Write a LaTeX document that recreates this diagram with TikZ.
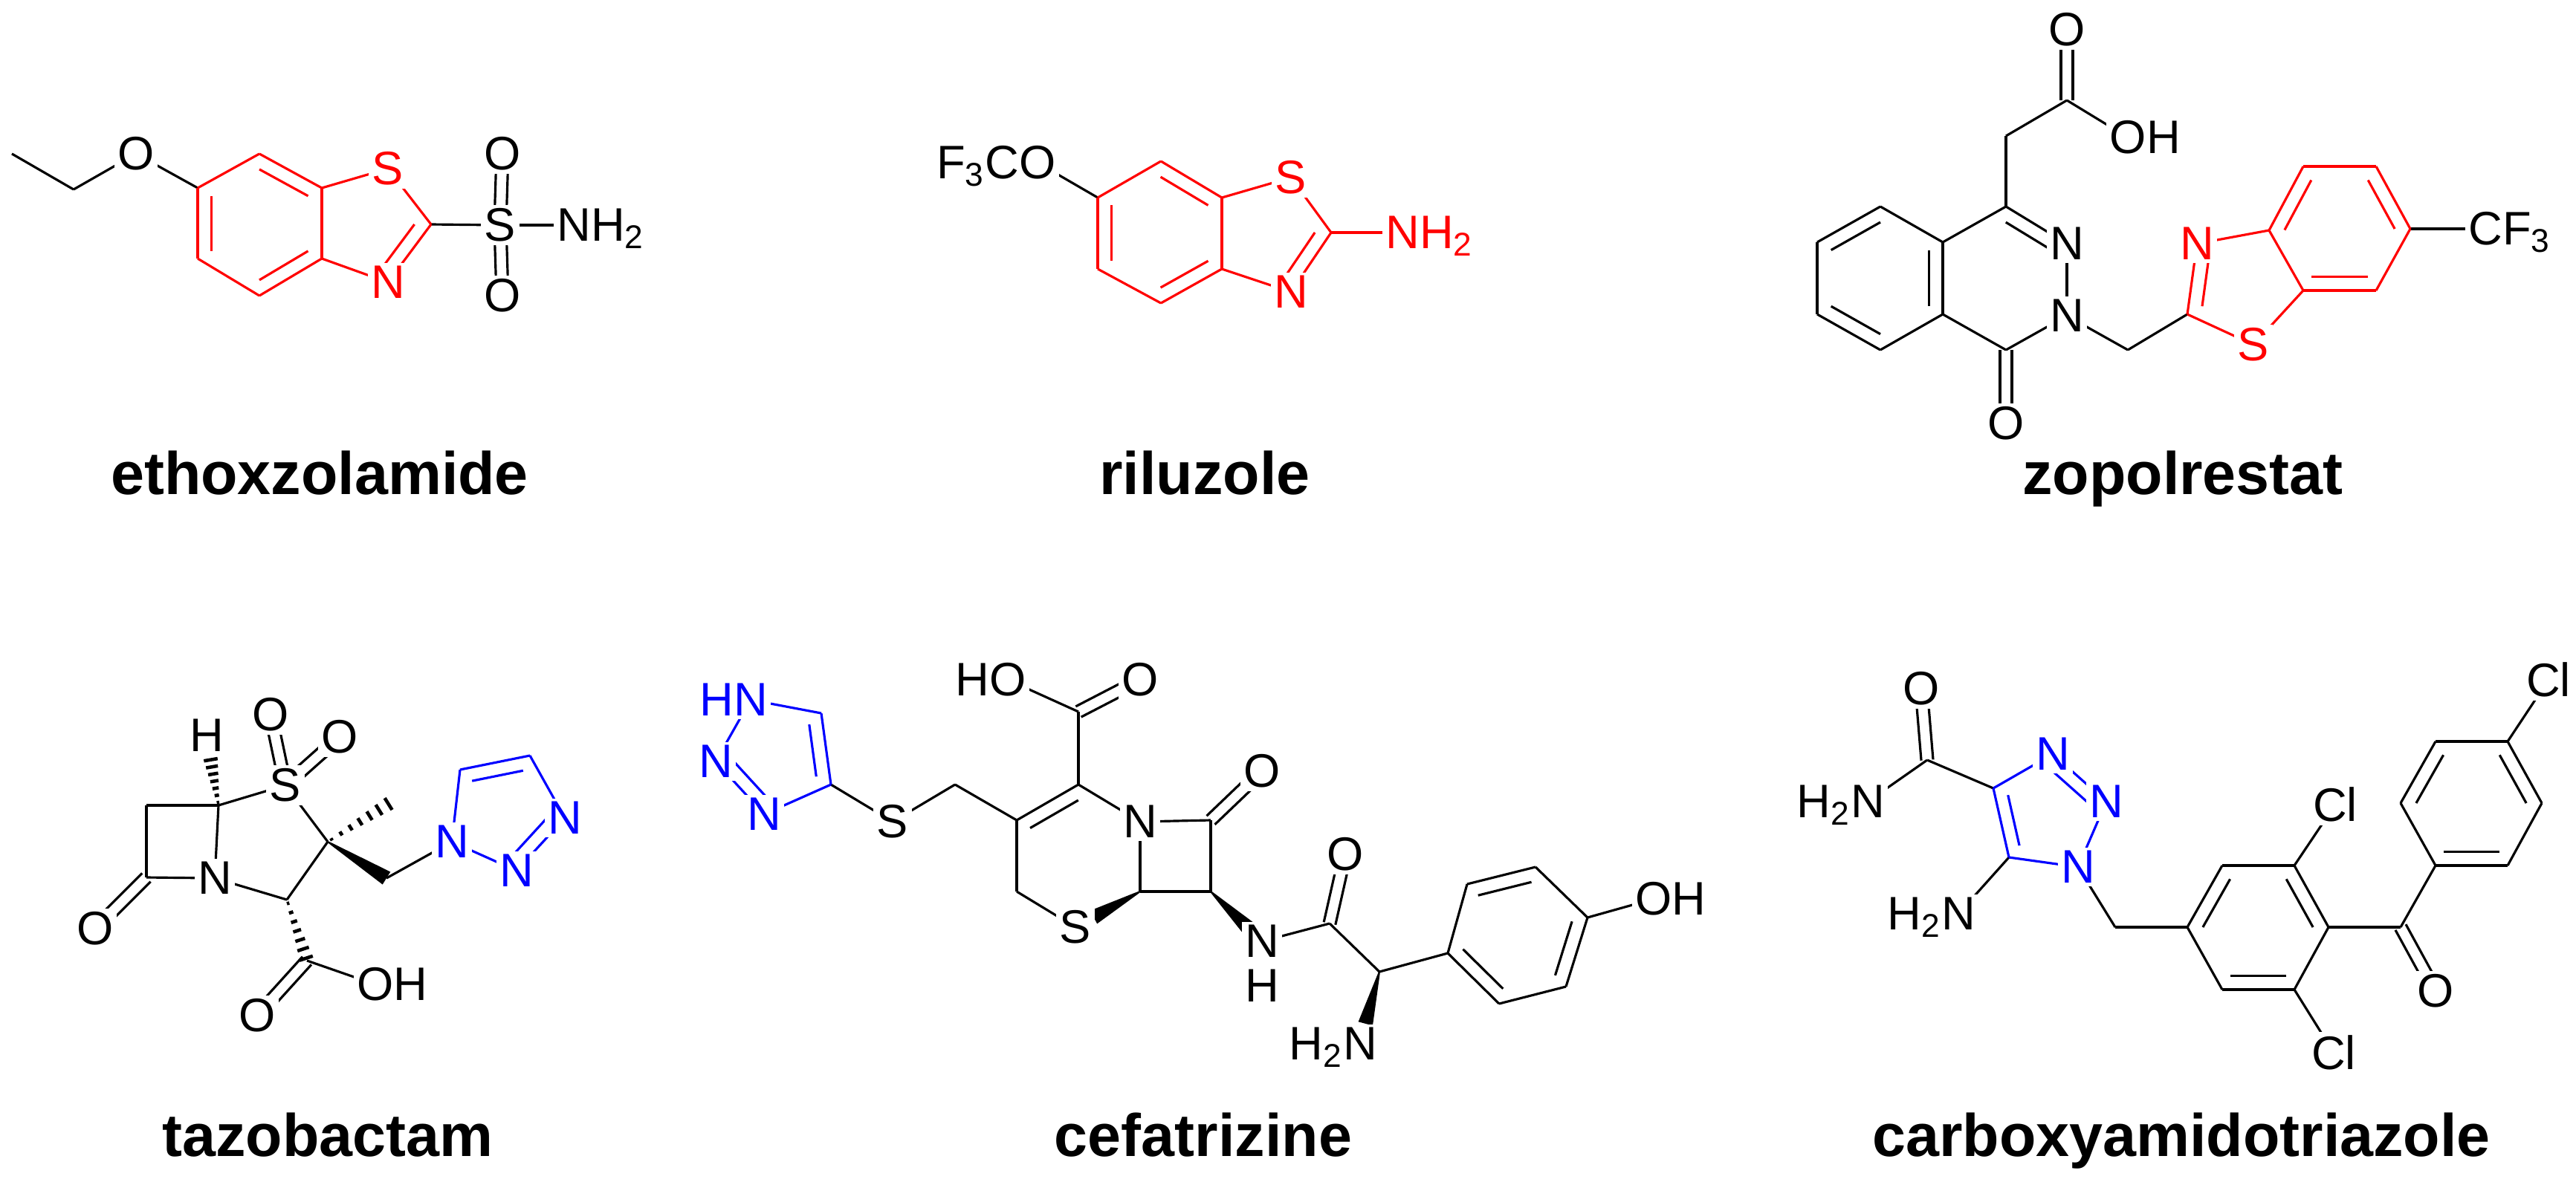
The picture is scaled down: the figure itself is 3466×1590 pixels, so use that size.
\documentclass[tikz,border=0pt]{standalone}
\usepackage{fontspec}
\setmainfont{Liberation Sans}
\usetikzlibrary{calc}
\tikzset{
  bond/.style={line width=0.9pt},
  atom/.style={font=\fontsize{18}{18}\selectfont, inner sep=1.3pt, fill=white},
  sub/.style={font=\fontsize{18}{18}\selectfont, inner sep=0pt, fill=white},
  subr/.style={sub, anchor=base west, xshift=-1.6pt},
  subl/.style={sub, anchor=base east, xshift=1.6pt},
  molname/.style={font=\bfseries\fontsize{23}{23}\selectfont, anchor=base}
}
\newcommand\bd[2]{\draw[bond] (#1) -- (#2);}
\newcommand\ib[4][0.22]{\draw[bond] ($(#2)!#1!(#4)$) -- ($(#3)!#1!(#4)$);}
\newcommand\db[2]{\draw[bond] ($(#1)!0.08cm!90:(#2)$) -- ($(#2)!0.08cm!-90:(#1)$);
  \draw[bond] ($(#1)!0.08cm!-90:(#2)$) -- ($(#2)!0.08cm!90:(#1)$);}
\newcommand\hw[2]{\foreach \t in {0.06,0.21,0.36,0.51,0.66,0.81,0.96}{%
  \pgfmathsetmacro\ww{0.012+0.085*\t}%
  \coordinate (hp) at ($(#1)!\t!(#2)$);
  \draw[line width=1.3pt] ($(hp)!\ww cm!90:(#2)$) -- ($(hp)!\ww cm!-90:(#2)$);}}
\newcommand\sw[2]{\fill ($(#1)!0.01cm!90:(#2)$) -- ($(#2)!0.1cm!-90:(#1)$) -- ($(#2)!0.1cm!90:(#1)$) -- ($(#1)!0.01cm!-90:(#2)$) -- cycle;}
\begin{document}
\begin{tikzpicture}[x=0.01cm,y=-0.01cm]
\path[use as bounding box, fill=white] (0,0) rectangle (3466,1590);

% ===== ethoxzolamide =====
\coordinate (e1) at (16,207); \coordinate (e2) at (99,255); \coordinate (eO) at (183,207);
\coordinate (e6) at (266,253); \coordinate (e7) at (349,207); \coordinate (e7a) at (433,253);
\coordinate (e3a) at (433,348); \coordinate (e4) at (349,398); \coordinate (e5) at (266,348);
\coordinate (eS) at (522,227); \coordinate (e2c) at (580,302); \coordinate (eN) at (522,380);
\coordinate (eSS) at (673,303); \coordinate (eO1) at (676,207); \coordinate (eO2) at (676,398);
\coordinate (eNH) at (772,303); \coordinate (ebc) at (349,302); \coordinate (etc) at (497,302);
\bd{e1}{e2}\bd{e2}{eO}\bd{eO}{e6}\bd{e2c}{eSS}\bd{eSS}{eNH}\db{eSS}{eO1}\db{eSS}{eO2}
\begin{scope}[red]
\bd{e6}{e7}\bd{e7}{e7a}\bd{e7a}{e3a}\bd{e3a}{e4}\bd{e4}{e5}\bd{e5}{e6}
\ib{e7}{e7a}{ebc}\ib{e5}{e6}{ebc}\ib{e3a}{e4}{ebc}
\bd{e7a}{eS}\bd{eS}{e2c}\bd{e2c}{eN}\bd{eN}{e3a}\ib[0.27]{e2c}{eN}{etc}
\node[atom] (eSl) at (eS) {S}; \node[atom] (eNl) at (eN) {N};
\end{scope}
\node[atom] (eOl) at (eO) {O}; \node[atom] (eSSl) at (eSS) {S};
\node[atom] (eO1l) at (eO1) {O}; \node[atom] (eO2l) at (eO2) {O};
\node[atom] (eNHl) at (eNH) {N}; \node[subr] (eH2) at (eNHl.base east) {H\textsubscript{2}};
\node[molname] (lab1) at (430,665) {ethoxzolamide};

% ===== riluzole =====
\coordinate (r6) at (1477,266); \coordinate (r7) at (1562,217); \coordinate (r7a) at (1644,266);
\coordinate (r3a) at (1644,362); \coordinate (r4) at (1562,408); \coordinate (r5) at (1477,362);
\coordinate (rS) at (1737,239); \coordinate (r2) at (1791,313); \coordinate (rN) at (1737,393);
\coordinate (rNH) at (1887,313); \coordinate (rO) at (1396,219);
\coordinate (rbc) at (1560,313); \coordinate (rtc) at (1710,313);
\bd{rO}{r6}
\begin{scope}[red]
\bd{r6}{r7}\bd{r7}{r7a}\bd{r7a}{r3a}\bd{r3a}{r4}\bd{r4}{r5}\bd{r5}{r6}
\ib{r7}{r7a}{rbc}\ib{r5}{r6}{rbc}\ib{r3a}{r4}{rbc}
\bd{r7a}{rS}\bd{rS}{r2}\bd{r2}{rN}\bd{rN}{r3a}\ib[0.27]{r2}{rN}{rtc}\bd{r2}{rNH}
\node[atom] (rSl) at (rS) {S}; \node[atom] (rNl) at (rN) {N};
\node[atom] (rNHl) at (rNH) {N}; \node[subr] (rH2) at (rNHl.base east) {H\textsubscript{2}};
\end{scope}
\node[atom] (rOl) at (rO) {O}; \node[subl] (rF3C) at (rOl.base west) {F\textsubscript{3}C};
\node[molname] (lab2) at (1621,665) {riluzole};

% ===== zopolrestat =====
\coordinate (zb1) at (2530,278); \coordinate (zb2) at (2614,326); \coordinate (zb3) at (2614,423);
\coordinate (zb4) at (2530,471); \coordinate (zb5) at (2445,423); \coordinate (zb6) at (2445,326);
\coordinate (zbc) at (2530,374);
\coordinate (zc1) at (2699,278); \coordinate (zn2) at (2781,328); \coordinate (zn3) at (2781,425);
\coordinate (zc4) at (2699,471); \coordinate (zpc) at (2698,374); \coordinate (zO4) at (2699,570);
\coordinate (zch) at (2699,183); \coordinate (zcc) at (2781,135); \coordinate (zOa) at (2781,40);
\coordinate (zOH) at (2863,185); \coordinate (zm) at (2863,471);
\coordinate (zt2) at (2943,423); \coordinate (ztN) at (2956,328); \coordinate (zt3a) at (3053,310);
\coordinate (zt7a) at (3099,391); \coordinate (ztS) at (3032,464); \coordinate (ztc) at (3017,383);
\coordinate (zp4) at (3099,224); \coordinate (zp5) at (3197,224); \coordinate (zp6) at (3243,308);
\coordinate (zp7) at (3197,391); \coordinate (zpc2) at (3148,308); \coordinate (zCF) at (3344,308);
\bd{zb1}{zb2}\bd{zb2}{zb3}\bd{zb3}{zb4}\bd{zb4}{zb5}\bd{zb5}{zb6}\bd{zb6}{zb1}
\ib{zb6}{zb1}{zbc}\ib{zb4}{zb5}{zbc}\ib{zb2}{zb3}{zbc}
\bd{zb2}{zc1}\bd{zc1}{zn2}\ib{zc1}{zn2}{zpc}\bd{zn2}{zn3}\bd{zn3}{zc4}\bd{zc4}{zb3}\db{zc4}{zO4}
\bd{zc1}{zch}\bd{zch}{zcc}\db{zcc}{zOa}\bd{zcc}{zOH}
\bd{zn3}{zm}\bd{zm}{zt2}\bd{zp6}{zCF}
\begin{scope}[red]
\bd{zt2}{ztN}\ib[0.27]{zt2}{ztN}{ztc}\bd{ztN}{zt3a}\bd{zt3a}{zt7a}\bd{zt7a}{ztS}\bd{ztS}{zt2}
\bd{zt3a}{zp4}\bd{zp4}{zp5}\bd{zp5}{zp6}\bd{zp6}{zp7}\bd{zp7}{zt7a}
\ib{zt3a}{zp4}{zpc2}\ib{zp5}{zp6}{zpc2}\ib{zp7}{zt7a}{zpc2}
\node[atom] (ztNl) at (ztN) {N}; \node[atom] (ztSl) at (ztS) {S};
\end{scope}
\node[atom] (zn2l) at (zn2) {N}; \node[atom] (zn3l) at (zn3) {N};
\node[atom] (zO4l) at (zO4) {O}; \node[atom] (zOal) at (zOa) {O};
\node[atom] (zOHl) at (zOH) {O}; \node[subr] (zOHh) at (zOHl.base east) {H};
\node[atom] (zCFl) at (zCF) {C}; \node[subr] (zF3) at (zCFl.base east) {F\textsubscript{3}};
\node[molname] (lab3) at (2937,665) {zopolrestat};

% ===== tazobactam =====
\coordinate (ta5) at (294,1084); \coordinate (ta6) at (197,1084); \coordinate (ta7) at (197,1181);
\coordinate (taN) at (289,1182); \coordinate (taO7) at (128,1250); \coordinate (taH) at (278,990);
\coordinate (taS) at (384,1057); \coordinate (taO1) at (364,962); \coordinate (taO2) at (457,992);
\coordinate (ta2) at (441,1133); \coordinate (taMe) at (526,1080); \coordinate (ta3) at (386,1211);
\coordinate (taCH2) at (520,1182); \coordinate (taN1) at (608,1133); \coordinate (taC5) at (619,1036);
\coordinate (taC4) at (713,1017); \coordinate (taN3) at (760,1101); \coordinate (taN2) at (695,1172);
\coordinate (tac) at (679,1092);
\coordinate (taCc) at (413,1293); \coordinate (taOc) at (346,1367); \coordinate (taOH) at (505,1325);
\coordinate (taHe) at ($(ta5)!0.68!(taH)$);
\bd{ta5}{ta6}\bd{ta6}{ta7}\bd{ta7}{taN}\bd{taN}{ta5}\db{ta7}{taO7}
\hw{ta5}{taHe}
\bd{ta5}{taS}\db{taS}{taO1}\db{taS}{taO2}\bd{taS}{ta2}\hw{ta2}{taMe}\bd{ta2}{ta3}\bd{ta3}{taN}
\sw{ta2}{taCH2}\bd{taCH2}{taN1}
\hw{ta3}{taCc}\db{taCc}{taOc}\bd{taCc}{taOH}
\begin{scope}[blue]
\bd{taN1}{taC5}\bd{taC5}{taC4}\ib[0.27]{taC5}{taC4}{tac}\bd{taC4}{taN3}\bd{taN3}{taN2}\ib[0.27]{taN3}{taN2}{tac}\bd{taN2}{taN1}
\node[atom] (taN1l) at (taN1) {N}; \node[atom] (taN2l) at (taN2) {N}; \node[atom] (taN3l) at (taN3) {N};
\end{scope}
\node[atom] (taNl) at (taN) {N}; \node[atom] (taO7l) at (taO7) {O}; \node[atom] (taHl) at (taH) {H};
\node[atom] (taSl) at (taS) {S}; \node[atom] (taO1l) at (taO1) {O}; \node[atom] (taO2l) at (taO2) {O};
\node[atom] (taOcl) at (taOc) {O};
\node[atom] (taOHl) at (taOH) {O}; \node[subr] (taOHh) at (taOHl.base east) {H};
\node[molname] (lab4) at (441,1556) {tazobactam};

% ===== cefatrizine =====
\coordinate (cN1) at (1010,942); \coordinate (cN2) at (963,1025); \coordinate (cN3) at (1028,1096);
\coordinate (cC4) at (1118,1056); \coordinate (cC5) at (1105,960); \coordinate (ctc) at (1045,1016);
\coordinate (cS) at (1201,1106); \coordinate (cCH2) at (1285,1056);
\coordinate (c3) at (1368,1104); \coordinate (c4) at (1451,1056); \coordinate (cN) at (1534,1106);
\coordinate (c6) at (1534,1200); \coordinate (cS1) at (1447,1248); \coordinate (c2) at (1368,1200);
\coordinate (crc) at (1450,1152);
\coordinate (c8) at (1629,1104); \coordinate (c7) at (1629,1200); \coordinate (cO8) at (1698,1038);
\coordinate (cCa) at (1451,958); \coordinate (cOa) at (1534,915); \coordinate (cOH) at (1356,915);
\coordinate (cNH) at (1698,1267); \coordinate (cHb) at (1698,1327);
\coordinate (cCo) at (1789,1243); \coordinate (cOo) at (1810,1150); \coordinate (cCa2) at (1856,1308);
\coordinate (cNH2) at (1830,1405);
\coordinate (cp1) at (1948,1283); \coordinate (cp2) at (1974,1190); \coordinate (cp3) at (2066,1167);
\coordinate (cp4) at (2136,1235); \coordinate (cp5) at (2107,1328); \coordinate (cp6) at (2017,1351);
\coordinate (cpc) at (2041,1259); \coordinate (cOHp) at (2225,1210);
\coordinate (cw1) at ($(c6)!0.72!(cS1)$); \coordinate (cw2) at ($(c7)!0.72!(cNH)$);
\coordinate (cw3) at ($(cCa2)!0.72!(cNH2)$);
\bd{cC4}{cS}\bd{cS}{cCH2}\bd{cCH2}{c3}
\bd{c3}{c4}\ib{c3}{c4}{crc}\bd{c4}{cN}\bd{cN}{c6}\sw{c6}{cw1}\bd{cS1}{c2}\bd{c2}{c3}
\bd{cN}{c8}\bd{c8}{c7}\bd{c7}{c6}\db{c8}{cO8}
\bd{c4}{cCa}\db{cCa}{cOa}\bd{cCa}{cOH}
\sw{c7}{cw2}\bd{cNH}{cCo}\db{cCo}{cOo}\bd{cCo}{cCa2}\sw{cCa2}{cw3}\bd{cCa2}{cp1}
\bd{cp1}{cp2}\bd{cp2}{cp3}\bd{cp3}{cp4}\bd{cp4}{cp5}\bd{cp5}{cp6}\bd{cp6}{cp1}
\ib{cp2}{cp3}{cpc}\ib{cp4}{cp5}{cpc}\ib{cp1}{cp6}{cpc}\bd{cp4}{cOHp}
\begin{scope}[blue]
\bd{cN1}{cC5}\bd{cC5}{cC4}\ib[0.27]{cC5}{cC4}{ctc}\bd{cC4}{cN3}\bd{cN3}{cN2}\ib[0.27]{cN3}{cN2}{ctc}\bd{cN2}{cN1}
\node[atom] (cN1l) at (cN1) {N}; \node[subl] (cN1h) at (cN1l.base west) {H};
\node[atom] (cN2l) at (cN2) {N}; \node[atom] (cN3l) at (cN3) {N};
\end{scope}
\node[atom] (cSl) at (cS) {S}; \node[atom] (cNl) at (cN) {N}; \node[atom] (cS1l) at (cS1) {S};
\node[atom] (cO8l) at (cO8) {O}; \node[atom] (cOal) at (cOa) {O};
\node[atom] (cOHl) at (cOH) {O}; \node[subl] (cOHh) at (cOHl.base west) {H};
\node[atom] (cNHl) at (cNH) {N}; \node[atom] (cHbl) at (cHb) {H};
\node[atom] (cOol) at (cOo) {O};
\node[atom] (cNH2l) at (cNH2) {N}; \node[subl] (cNH2h) at (cNH2l.base west) {H\textsubscript{2}};
\node[atom] (cOHpl) at (cOHp) {O}; \node[subr] (cOHph) at (cOHpl.base east) {H};
\node[molname] (lab5) at (1619,1556) {cefatrizine};

% ===== carboxyamidotriazole =====
\coordinate (kC4) at (2682,1061); \coordinate (kN3) at (2762,1015); \coordinate (kN2) at (2834,1079);
\coordinate (kN1) at (2796,1167); \coordinate (kC5) at (2703,1154); \coordinate (ktc) at (2755,1095);
\coordinate (kCo) at (2593,1023); \coordinate (kOo) at (2585,927); \coordinate (kNa) at (2513,1079);
\coordinate (kNb) at (2635,1230); \coordinate (kCH2) at (2846,1248);
\coordinate (kp1) at (2943,1248); \coordinate (kp2) at (2990,1165); \coordinate (kp3) at (3087,1165);
\coordinate (kp4) at (3133,1248); \coordinate (kp5) at (3087,1332); \coordinate (kp6) at (2990,1332);
\coordinate (kpc) at (3038,1248);
\coordinate (kCl1) at (3142,1083); \coordinate (kCl2) at (3140,1417);
\coordinate (kCo2) at (3230,1248); \coordinate (kO2) at (3277,1334);
\coordinate (kq1) at (3277,1165); \coordinate (kq2) at (3374,1165); \coordinate (kq3) at (3420,1081);
\coordinate (kq4) at (3374,998); \coordinate (kq5) at (3277,998); \coordinate (kq6) at (3230,1081);
\coordinate (kqc) at (3325,1081); \coordinate (kCl3) at (3429,915);
\bd{kC4}{kCo}\db{kCo}{kOo}\bd{kCo}{kNa}\bd{kC5}{kNb}\bd{kN1}{kCH2}\bd{kCH2}{kp1}
\bd{kp1}{kp2}\bd{kp2}{kp3}\bd{kp3}{kp4}\bd{kp4}{kp5}\bd{kp5}{kp6}\bd{kp6}{kp1}
\ib{kp1}{kp2}{kpc}\ib{kp3}{kp4}{kpc}\ib{kp5}{kp6}{kpc}
\bd{kp3}{kCl1}\bd{kp5}{kCl2}\bd{kp4}{kCo2}\db{kCo2}{kO2}\bd{kCo2}{kq1}
\bd{kq1}{kq2}\bd{kq2}{kq3}\bd{kq3}{kq4}\bd{kq4}{kq5}\bd{kq5}{kq6}\bd{kq6}{kq1}
\ib{kq1}{kq2}{kqc}\ib{kq3}{kq4}{kqc}\ib{kq5}{kq6}{kqc}\bd{kq4}{kCl3}
\begin{scope}[blue]
\bd{kC4}{kN3}\bd{kN3}{kN2}\ib[0.27]{kN3}{kN2}{ktc}\bd{kN2}{kN1}\bd{kN1}{kC5}\bd{kC5}{kC4}\ib[0.27]{kC5}{kC4}{ktc}
\node[atom] (kN1l) at (kN1) {N}; \node[atom] (kN2l) at (kN2) {N}; \node[atom] (kN3l) at (kN3) {N};
\end{scope}
\node[atom] (kOol) at (kOo) {O};
\node[atom] (kNal) at (kNa) {N}; \node[subl] (kNah) at (kNal.base west) {H\textsubscript{2}};
\node[atom] (kNbl) at (kNb) {N}; \node[subl] (kNbh) at (kNbl.base west) {H\textsubscript{2}};
\node[atom] (kCl1l) at (kCl1) {Cl}; \node[atom] (kCl2l) at (kCl2) {Cl}; \node[atom] (kCl3l) at (kCl3) {Cl};
\node[atom] (kO2l) at (kO2) {O};
\node[molname] (lab6) at (2935,1556) {carboxyamidotriazole};
\end{tikzpicture}
\end{document}
